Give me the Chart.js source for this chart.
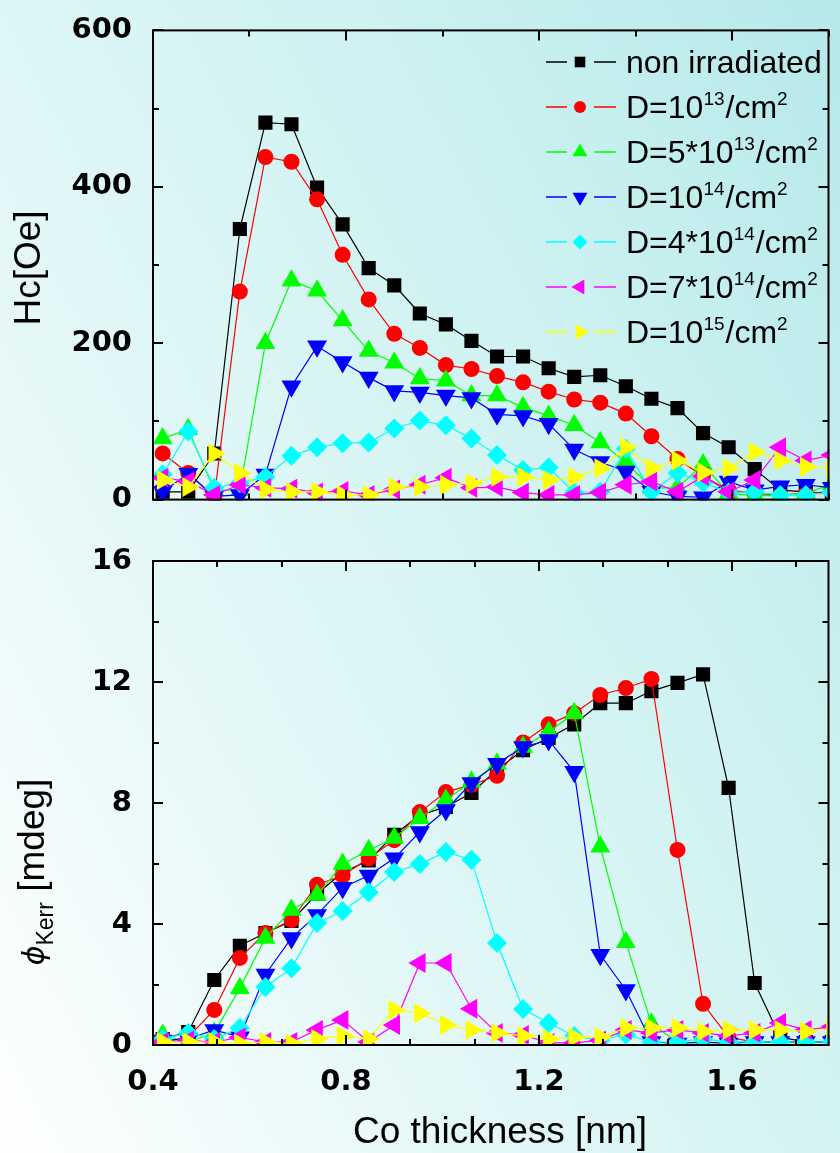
<!DOCTYPE html>
<html><head><meta charset="utf-8">
<script src="https://cdn.jsdelivr.net/npm/chart.js@4.4.0/dist/chart.umd.min.js"></script>
<style>
html,body{margin:0;padding:0;width:840px;height:1153px;overflow:hidden;}
body{background:linear-gradient(62deg,#ffffff 0%,#e6f8f8 30%,#d0f2f2 65%,#b6e9ea 100%);position:relative;}
#c1{position:absolute;left:0;top:0;}
#c2{position:absolute;left:0;top:530px;}
</style></head><body>
<canvas id="c1" width="840" height="530"></canvas>
<canvas id="c2" width="840" height="623"></canvas>
<script>
// ---------- data ----------
const thickness = [0.42,0.473,0.527,0.58,0.633,0.687,0.74,0.793,0.847,0.9,0.953,1.007,1.06,1.113,1.167,1.22,1.273,1.327,1.38,1.433,1.487,1.54,1.593,1.647,1.70,1.753,1.807];

const seriesNames = ['non irradiated','D=1e13/cm2','D=5*1e13/cm2','D=1e14/cm2','D=4*1e14/cm2','D=7*1e14/cm2','D=1e15/cm2'];
// legend text pieces: [text, isSuperscript]
const legendParts = [
  [['non irradiated',0]],
  [['D=10',0],['13',1],['/cm',0],['2',1]],
  [['D=5*10',0],['13',1],['/cm',0],['2',1]],
  [['D=10',0],['14',1],['/cm',0],['2',1]],
  [['D=4*10',0],['14',1],['/cm',0],['2',1]],
  [['D=7*10',0],['14',1],['/cm',0],['2',1]],
  [['D=10',0],['15',1],['/cm',0],['2',1]]
];

// Coercive field Hc [Oe]
const hcNon  = [10,10,59,346,482,480,399,352,296,274,238,224,203,183,183,168,157,159,145,129,117,85,67,39,12,10,8];
const hc1e13 = [59,34,3,266,438,432,384,313,256,212,194,172,167,158,150,138,128,124,110,81,52,30,12,8,6,8,10];
const hc5e13 = [78,90,12,12,200,280,267,229,190,175,155,152,133,133,118,107,95,73,48,15,15,45,8,5,5,8,20];
const hc1e14 = [10,33,4,6,32,145,196,176,156,139,137,133,130,109,107,97,64,48,36,10,4,3,23,12,17,19,15];
const hc4e14 = [32,87,15,21,29,56,67,72,73,91,101,95,78,57,38,41,9,10,65,10,34,22,9,10,6,6,9];
const hc7e14 = [28,23,6,19,15,14,9,11,6,13,19,28,15,16,9,6,6,9,19,23,10,30,10,25,67,50,57];
const hc1e15 = [25,16,59,34,13,10,10,6,6,16,16,19,21,29,29,25,29,40,67,40,50,35,40,61,50,42,40];

// Kerr rotation [mdeg]
const kerrNon  = [0.2,0.43,2.15,3.28,3.7,4.1,5.0,5.7,6.1,6.95,7.6,7.87,8.33,9.1,9.75,10.15,10.6,11.3,11.3,11.7,11.97,12.25,8.5,2.05,0.26,0.1,0.1];
const kerr1e13 = [0.1,0.26,1.16,2.88,3.7,4.13,5.3,5.6,6.17,6.77,7.7,8.36,8.6,8.9,10.0,10.6,10.97,11.57,11.8,12.1,6.45,1.36,0.25,0.1,0.1,0.1,0.1];
const kerr5e13 = [0.33,0.1,0.4,1.88,3.54,4.46,4.96,5.98,6.44,6.84,7.5,8.1,8.7,9.3,9.85,10.35,10.97,6.55,3.4,0.7,0.1,0.05,0.1,0.1,0.1,0.1,0.1];
const kerr1e14 = [0.15,0.2,0.5,0.26,2.33,3.54,4.3,5.2,5.6,6.17,7.04,7.77,8.66,9.3,9.85,10.08,9.03,2.98,1.82,0.1,0.05,0.1,0.05,0.1,0.1,0.1,0.1];
const kerr4e14 = [0.2,0.4,0.2,0.56,1.92,2.54,4.03,4.43,5.05,5.72,5.98,6.38,6.12,3.37,1.19,0.73,0.3,0.15,0.35,0.1,0.1,0.2,0.1,0.1,0.1,0.1,0.1];
const kerr7e14 = [0.1,0.15,0.1,0.25,0.1,0.1,0.5,0.83,0.1,0.66,2.71,2.71,1.2,0.4,0.33,0.07,0.07,0.15,0.5,0.4,0.5,0.4,0.3,0.4,0.73,0.5,0.6];
const kerr1e15 = [0.1,0.1,0.1,0.05,0.1,0.05,0.2,0.3,0.2,1.16,1.05,0.66,0.5,0.4,0.3,0.2,0.26,0.26,0.56,0.56,0.56,0.45,0.5,0.5,0.5,0.45,0.55];

// ticks
const xLabelValues = [0.4,0.8,1.2,1.6];
const xLabelText = ['0.4','0.8','1.2','1.6'];
const xTicksTop = [0.4,0.6,0.8,1.0,1.2,1.4,1.6,1.8];
const xTicksBottom = [0.4,0.5333,0.6667,0.8,0.9333,1.0667,1.2,1.3333,1.4667,1.6,1.7333];
const hcLabelValues = [0,200,400,600];
const hcTicks = [0,100,200,300,400,500,600];
const kerrLabelValues = [0,4,8,12,16];
const kerrTicks = [0,2,4,6,8,10,12,14,16];

// ---------- styles ----------
const colors = ['#000000','#ff0000','#00ff00','#0000ff','#00ffff','#ff00ff','#ffff00'];
const pStyles = ['rect','circle','triangle','triangle','rectRot','triangle','triangle'];
const pRot = [0,0,0,180,0,-90,90];
const pRad = [10,8,11.5,11.5,10,11.5,11.5];

function buildDatasets(seriesList){
  return seriesList.map((vals,i)=>({
    label: seriesNames[i],
    data: thickness.map((t,j)=>({x:t,y:vals[j]})),
    borderColor: colors[i], backgroundColor: colors[i],
    borderWidth: 1.2,
    pointStyle: pStyles[i], pointRotation: pRot[i], pointRadius: pRad[i],
    pointBackgroundColor: colors[i], pointBorderColor: colors[i], pointBorderWidth: 0,
    pointHoverRadius: pRad[i],
    tension: 0, fill: false, order: 6 - i, clip: 1
  }));
}

const isMajor = (v, majors) => majors.some(m => Math.abs(m - v) < 1e-3);

const framePlugin = {
  id: 'frame',
  afterDatasetsDraw(chart, args, o){
    const {ctx, chartArea: a, scales: {x, y}} = chart;
    ctx.save();
    ctx.strokeStyle = '#000'; ctx.lineWidth = 2;
    ctx.beginPath();
    o.xTicks.forEach(v => {
      const px = Math.round(x.getPixelForValue(v));
      const L = isMajor(v, o.xMajor) ? 10 : 6;
      ctx.moveTo(px, a.bottom); ctx.lineTo(px, a.bottom - L);
      ctx.moveTo(px, a.top); ctx.lineTo(px, a.top + L);
    });
    o.yTicks.forEach(v => {
      const py = Math.round(y.getPixelForValue(v));
      const L = isMajor(v, o.yMajor) ? 10 : 6;
      ctx.moveTo(a.left, py); ctx.lineTo(a.left + L, py);
      ctx.moveTo(a.right, py); ctx.lineTo(a.right - L, py);
    });
    ctx.stroke();
    ctx.strokeRect(a.left, a.top, a.right - a.left, a.bottom - a.top);
    ctx.restore();
  }
};

const legendPlugin = {
  id: 'customLegend',
  afterDraw(chart, args, o){
    if (!o.show) return;
    const ctx = chart.ctx;
    ctx.save();
    chart.data.datasets.forEach((ds, i) => {
      const yc = o.y0 + o.dy * i;
      ctx.strokeStyle = ds.borderColor; ctx.lineWidth = 1.5;
      ctx.beginPath();
      ctx.moveTo(o.x0, yc); ctx.lineTo(o.x0 + 21, yc);
      ctx.moveTo(o.x0 + 48, yc); ctx.lineTo(o.x0 + 70, yc);
      ctx.stroke();
      ctx.fillStyle = ds.borderColor;
      Chart.helpers.drawPoint(ctx, {pointStyle: ds.pointStyle, rotation: ds.pointRotation, radius: ds.pointRadius * 0.75, borderWidth: 0}, o.x0 + 34, yc);
      let tx = o.x0 + 80;
      ctx.fillStyle = '#000';
      ctx.textBaseline = 'alphabetic'; ctx.textAlign = 'left';
      legendParts[i].forEach(([txt, sup]) => {
        ctx.font = sup ? '19px "Liberation Sans", Arial, sans-serif' : '32px "Liberation Sans", Arial, sans-serif';
        ctx.fillText(txt, tx, sup ? yc - 2 : yc + 11);
        tx += ctx.measureText(txt).width + (sup ? 1 : 0);
      });
    });
    ctx.restore();
  }
};

const textPlugin = {
  id: 'axisTexts',
  afterDraw(chart, args, o){
    const ctx = chart.ctx;
    ctx.save();
    ctx.fillStyle = '#000';
    if (o.kind === 'top') {
      ctx.translate(30, 268); ctx.rotate(-Math.PI/2);
      ctx.font = '37px "Liberation Sans", Arial, sans-serif';
      ctx.textAlign = 'center'; ctx.textBaseline = 'middle';
      ctx.fillText('Hc[Oe]', 0, 0);
    } else {
      // x title
      ctx.font = '37px "Liberation Sans", Arial, sans-serif';
      ctx.textAlign = 'center'; ctx.textBaseline = 'alphabetic';
      ctx.fillText('Co thickness [nm]', 500, 613);
      // y title: phi_Kerr [mdeg]
      const parts = [
        ['\u03D5', 'italic 30px "DejaVu Sans", sans-serif', 0],
        ['Kerr', '23px "Liberation Sans", Arial, sans-serif', 9],
        [' [mdeg]', '37px "Liberation Sans", Arial, sans-serif', 0]
      ];
      let total = 0;
      parts.forEach(p => { ctx.font = p[1]; total += ctx.measureText(p[0]).width; });
      ctx.translate(44, 342); ctx.rotate(-Math.PI/2);
      ctx.textAlign = 'left'; ctx.textBaseline = 'alphabetic';
      let px = -total / 2;
      parts.forEach(p => { ctx.font = p[1]; ctx.fillText(p[0], px, p[2]); px += ctx.measureText(p[0]).width; });
    }
    ctx.restore();
  }
};

const tickFont = {family: '"DejaVu Sans", sans-serif', weight: 'bold', size: 29};

function makeChart(canvasId, series, cfg){
  return new Chart(document.getElementById(canvasId), {
    type: 'line',
    data: {datasets: buildDatasets(series)},
    options: {
      responsive: false, animation: false, events: [],
      layout: {padding: cfg.padding},
      plugins: {
        legend: {display: false}, tooltip: {enabled: false},
        frame: {xTicks: cfg.xTicks, xMajor: xLabelValues, yTicks: cfg.yTicks, yMajor: cfg.yLabels},
        customLegend: {show: cfg.legend, x0: 546, y0: 62, dy: 45},
        axisTexts: {kind: cfg.kind}
      },
      scales: {
        x: {
          type: 'linear', min: 0.4, max: 1.8,
          grid: {display: false}, border: {display: false},
          ticks: {display: cfg.xLabels, font: tickFont, color: '#000', padding: 12, maxRotation: 0, autoSkip: false,
                  callback: (v, i) => xLabelText[i]},
          afterBuildTicks: s => { s.ticks = xLabelValues.map(v => ({value: v})); },
          afterFit: s => { s.height = cfg.xHeight; }
        },
        y: {
          type: 'linear', min: cfg.yMin, max: cfg.yMax,
          grid: {display: false}, border: {display: false},
          ticks: {font: tickFont, color: '#000', padding: 13, autoSkip: false,
                  callback: (v, i) => String(cfg.yLabels[i])},
          afterBuildTicks: s => { s.ticks = cfg.yLabels.map(v => ({value: v})); },
          afterFit: s => { s.width = 153; }
        }
      }
    },
    plugins: [framePlugin, legendPlugin, textPlugin]
  });
}

makeChart('c1', [hcNon, hc1e13, hc5e13, hc1e14, hc4e14, hc7e14, hc1e15], {
  padding: {top: 30, right: 4, bottom: 25, left: 0}, xHeight: 0, xLabels: false,
  xTicks: xTicksTop, yTicks: hcTicks, yLabels: hcLabelValues, yMin: 0, yMax: 600,
  legend: true, kind: 'top'
});

makeChart('c2', [kerrNon, kerr1e13, kerr5e13, kerr1e14, kerr4e14, kerr7e14, kerr1e15], {
  padding: {top: 31, right: 4, bottom: 0, left: 0}, xHeight: 108, xLabels: true,
  xTicks: xTicksBottom, yTicks: kerrTicks, yLabels: kerrLabelValues, yMin: 0, yMax: 16,
  legend: false, kind: 'bottom'
});
</script>
</body></html>
